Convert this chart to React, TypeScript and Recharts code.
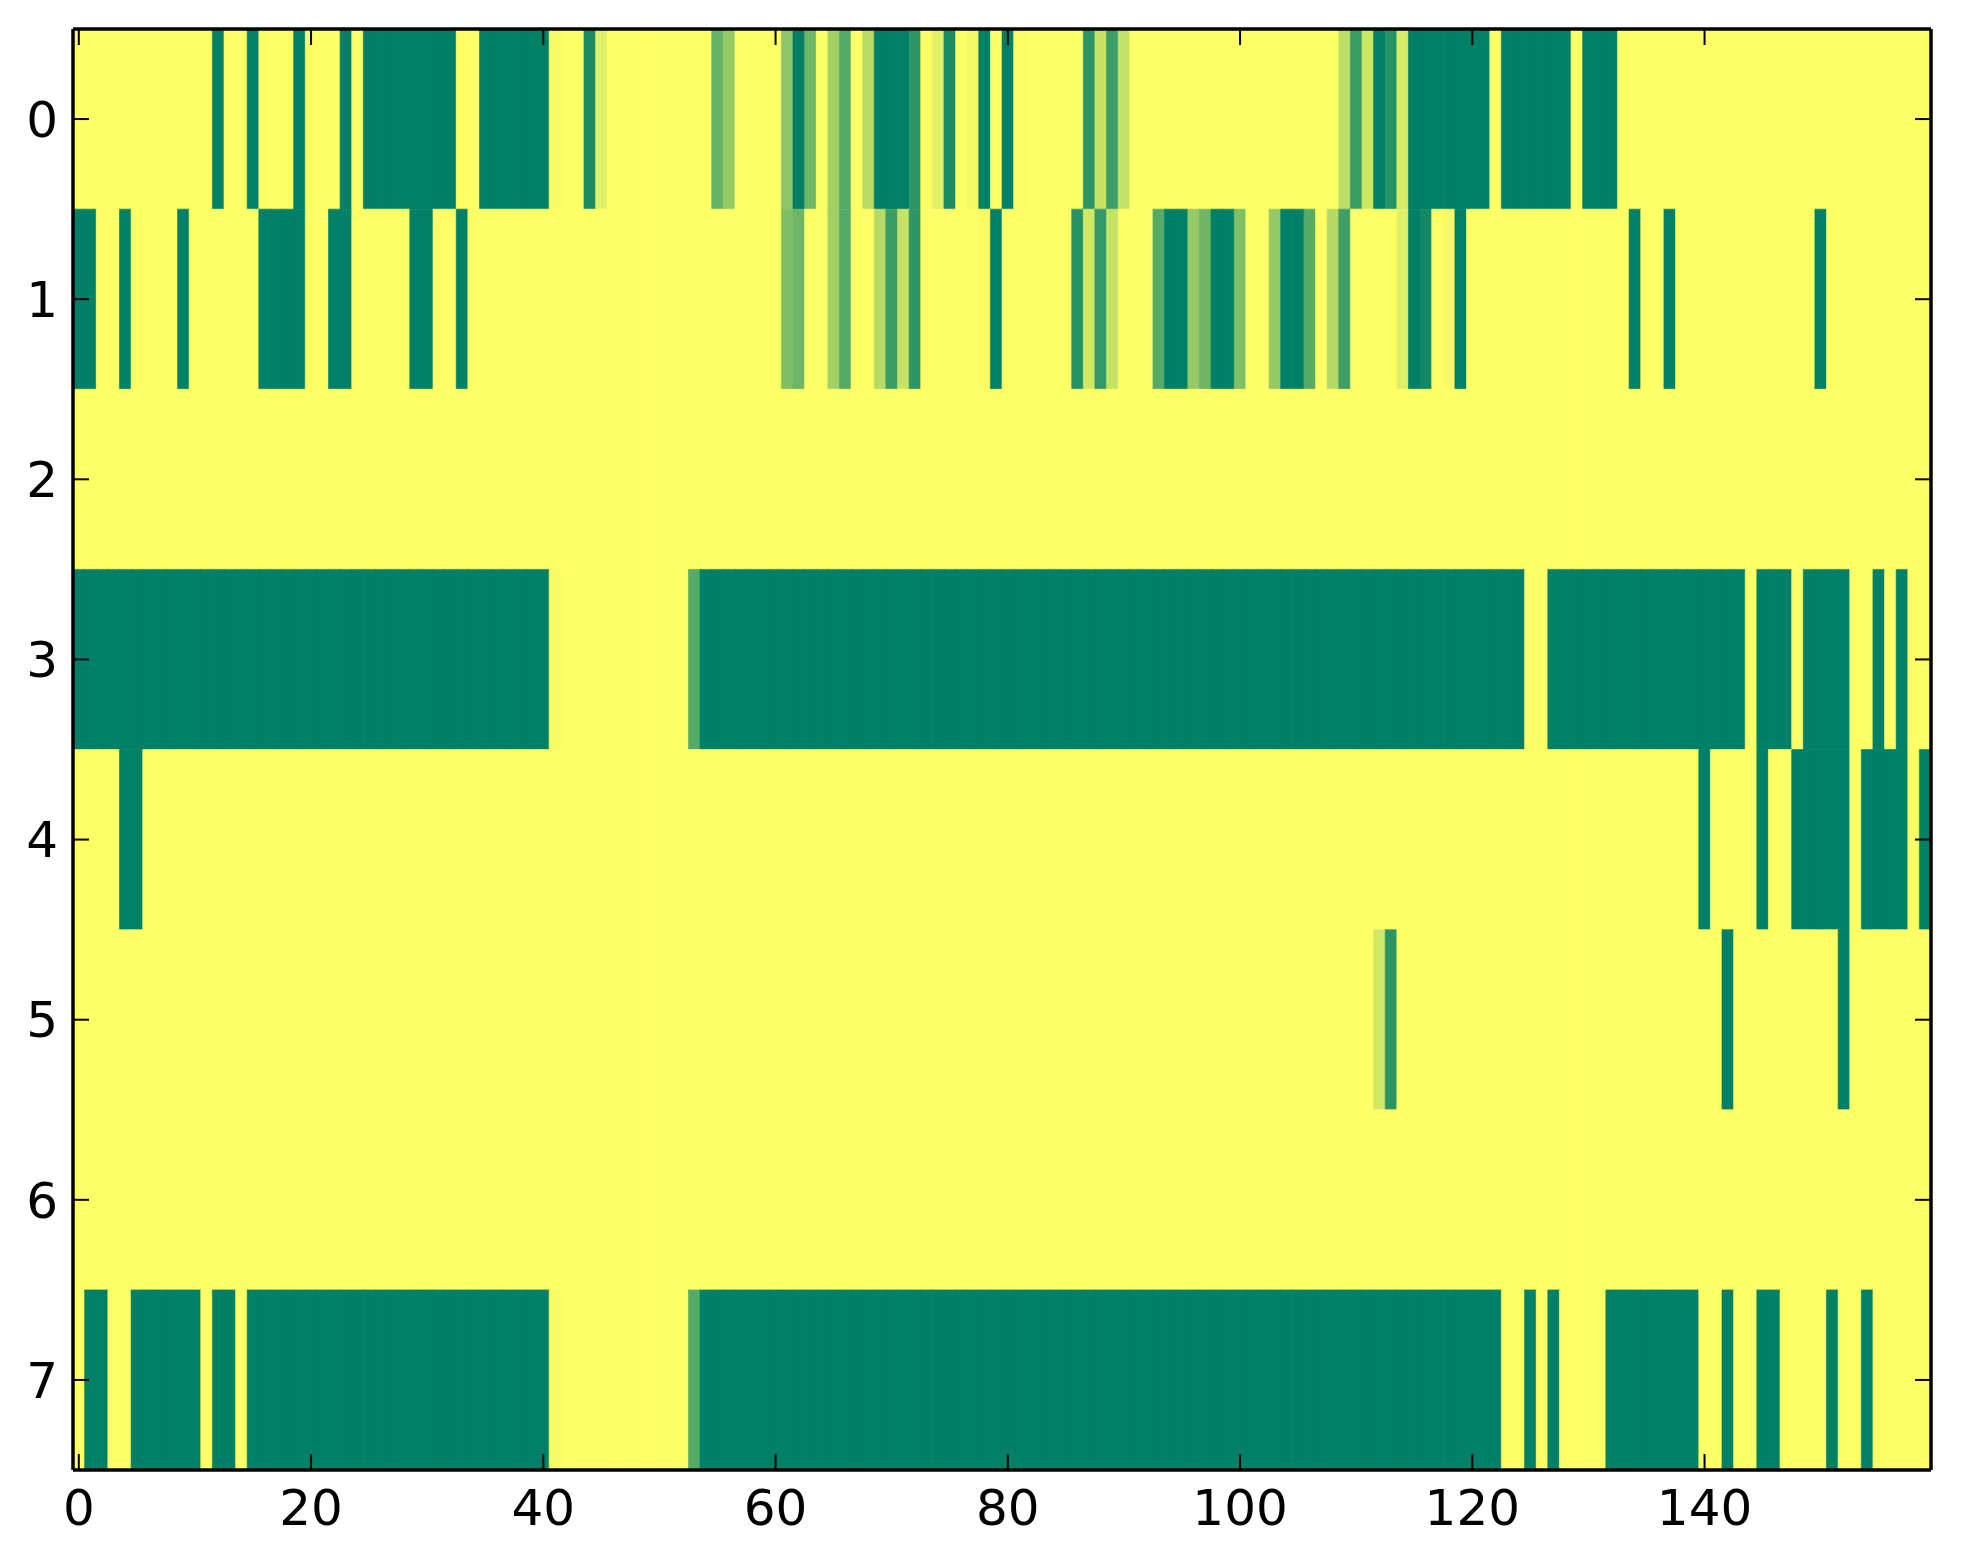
import React from 'react';
import { ComposedChart, Bar, Cell, XAxis, YAxis } from 'recharts';

// Heatmap values (0 = yellow, 1 = green), one array per row, 160 columns each
const row0 = [
  0, 0, 0, 0, 0, 0, 0, 0, 0, 0, 0, 0, 1, 0, 0, 1, 0, 0, 0, 1,
  0, 0, 0, 1, 0, 1, 1, 1, 1, 1, 1, 1, 1, 0, 0, 1, 1, 1, 1, 1,
  1, 0.03, 0, 0, 0.9, 0.12, 0, 0, 0, 0, 0, 0, 0, 0, 0, 0.6, 0.42, 0, 0, 0,
  0, 0.45, 1, 0.58, 0, 0.37, 0.67, 0, 0.28, 1, 1, 1, 0.82, 0, 0.12, 0.9, 0, 0.05, 1, 0,
  1, 0.02, 0, 0, 0, 0, 0, 0.83, 0.22, 0.77, 0.23, 0, 0, 0, 0, 0, 0, 0, 0, 0,
  0, 0, 0, 0, 0, 0, 0, 0, 0, 0.26, 0.77, 0.2, 1, 0.85, 0.15, 1, 1, 1, 1, 1,
  1, 1, 0, 1, 1, 1, 1, 1, 1, 0, 1, 1, 1, 0, 0, 0, 0, 0, 0, 0,
  0, 0, 0, 0, 0, 0, 0, 0, 0, 0, 0, 0, 0, 0, 0, 0, 0, 0, 0, 0,
];
const row1 = [
  1, 1, 0, 0, 1, 0, 0, 0, 0, 1, 0, 0, 0, 0, 0, 0, 1, 1, 1, 1,
  0, 0, 1, 1, 0, 0, 0, 0, 0, 1, 1, 0, 0, 1, 0, 0, 0, 0, 0, 0,
  0, 0, 0, 0, 0, 0, 0, 0, 0, 0, 0, 0, 0, 0, 0, 0, 0, 0, 0, 0,
  0, 0.5, 0.57, 0, 0, 0.37, 0.67, 0, 0, 0.28, 0.77, 0.22, 0.82, 0, 0, 0, 0, 0, 0.02, 1,
  0, 0, 0, 0, 0, 0, 0.85, 0.18, 0.8, 0.23, 0, 0, 0, 0.67, 1, 1, 0.42, 0.57, 1, 1,
  0.5, 0, 0, 0.42, 1, 1, 0.67, 0, 0.3, 0.76, 0, 0, 0, 0, 0.12, 1, 0.93, 0, 0.04, 1,
  0, 0, 0, 0, 0, 0, 0, 0, 0, 0, 0, 0, 0, 0, 1, 0, 0, 1, 0, 0,
  0, 0, 0, 0, 0, 0, 0, 0, 0, 0, 1, 0, 0, 0, 0, 0, 0, 0, 0, 0,
];
const row2 = [
  0, 0, 0, 0, 0, 0, 0, 0, 0, 0, 0, 0, 0, 0, 0, 0, 0, 0, 0, 0,
  0, 0, 0, 0, 0, 0, 0, 0, 0, 0, 0, 0, 0, 0, 0, 0, 0, 0, 0, 0,
  0, 0, 0, 0, 0, 0, 0, 0, 0, 0, 0, 0, 0, 0, 0, 0, 0, 0, 0, 0,
  0, 0, 0, 0, 0, 0, 0, 0, 0, 0, 0, 0, 0, 0, 0, 0, 0, 0, 0, 0,
  0, 0, 0, 0, 0, 0, 0, 0, 0, 0, 0, 0, 0, 0, 0, 0, 0, 0, 0, 0,
  0, 0, 0, 0, 0, 0, 0, 0, 0, 0, 0, 0, 0, 0, 0, 0, 0, 0, 0, 0,
  0, 0, 0, 0, 0, 0, 0, 0, 0, 0, 0, 0, 0, 0, 0, 0, 0, 0, 0, 0,
  0, 0, 0, 0, 0, 0, 0, 0, 0, 0, 0, 0, 0, 0, 0, 0, 0, 0, 0, 0,
];
const row3 = [
  1, 1, 1, 1, 1, 1, 1, 1, 1, 1, 1, 1, 1, 1, 1, 1, 1, 1, 1, 1,
  1, 1, 1, 1, 1, 1, 1, 1, 1, 1, 1, 1, 1, 1, 1, 1, 1, 1, 1, 1,
  1, 0.03, 0, 0, 0, 0, 0, 0, 0, 0, 0, 0, 0, 0.67, 1, 1, 1, 1, 1, 1,
  1, 1, 1, 1, 1, 1, 1, 1, 1, 1, 1, 1, 1, 1, 1, 1, 1, 1, 1, 1,
  1, 1, 1, 1, 1, 1, 1, 1, 1, 1, 1, 1, 1, 1, 1, 1, 1, 1, 1, 1,
  1, 1, 1, 1, 1, 1, 1, 1, 1, 1, 1, 1, 1, 1, 1, 1, 1, 1, 1, 1,
  1, 1, 1, 1, 1, 0, 0, 1, 1, 1, 1, 1, 1, 1, 1, 1, 1, 1, 1, 1,
  1, 1, 1, 1, 0, 1, 1, 1, 0, 1, 1, 1, 1, 0, 0, 1, 0, 1, 0, 0,
];
const row4 = [
  0, 0, 0, 0, 1, 1, 0, 0, 0, 0, 0, 0, 0, 0, 0, 0, 0, 0, 0, 0,
  0, 0, 0, 0, 0, 0, 0, 0, 0, 0, 0, 0, 0, 0, 0, 0, 0, 0, 0, 0,
  0, 0, 0, 0, 0, 0, 0, 0, 0, 0, 0, 0, 0, 0, 0, 0, 0, 0, 0, 0,
  0, 0, 0, 0, 0, 0, 0, 0, 0, 0, 0, 0, 0, 0, 0, 0, 0, 0, 0, 0,
  0, 0, 0, 0, 0, 0, 0, 0, 0, 0, 0, 0, 0, 0, 0, 0, 0, 0, 0, 0,
  0, 0, 0, 0, 0, 0, 0, 0, 0, 0, 0, 0, 0, 0, 0, 0, 0, 0, 0, 0,
  0, 0, 0, 0, 0, 0, 0, 0, 0, 0, 0, 0, 0, 0, 0, 0, 0, 0, 0, 0,
  1, 0, 0, 0, 0, 1, 0, 0, 1, 1, 1, 1, 1, 0, 1, 1, 1, 1, 0, 1,
];
const row5 = [
  0, 0, 0, 0, 0, 0, 0, 0, 0, 0, 0, 0, 0, 0, 0, 0, 0, 0, 0, 0,
  0, 0, 0, 0, 0, 0, 0, 0, 0, 0, 0, 0, 0, 0, 0, 0, 0, 0, 0, 0,
  0, 0, 0, 0, 0, 0, 0, 0, 0, 0, 0, 0, 0, 0, 0, 0, 0, 0, 0, 0,
  0, 0, 0, 0, 0, 0, 0, 0, 0, 0, 0, 0, 0, 0, 0, 0, 0, 0, 0, 0,
  0, 0, 0, 0, 0, 0, 0, 0, 0, 0, 0, 0, 0, 0, 0, 0, 0, 0, 0, 0,
  0, 0, 0, 0, 0, 0, 0, 0, 0, 0, 0, 0, 0.18, 0.83, 0, 0, 0, 0, 0, 0,
  0, 0, 0, 0, 0, 0, 0, 0, 0, 0, 0, 0, 0, 0, 0, 0, 0, 0, 0, 0,
  0, 0, 1, 0, 0, 0, 0, 0, 0, 0, 0, 0, 1, 0, 0, 0, 0, 0, 0, 0,
];
const row6 = [
  0, 0, 0, 0, 0, 0, 0, 0, 0, 0, 0, 0, 0, 0, 0, 0, 0, 0, 0, 0,
  0, 0, 0, 0, 0, 0, 0, 0, 0, 0, 0, 0, 0, 0, 0, 0, 0, 0, 0, 0,
  0, 0, 0, 0, 0, 0, 0, 0, 0, 0, 0, 0, 0, 0, 0, 0, 0, 0, 0, 0,
  0, 0, 0, 0, 0, 0, 0, 0, 0, 0, 0, 0, 0, 0, 0, 0, 0, 0, 0, 0,
  0, 0, 0, 0, 0, 0, 0, 0, 0, 0, 0, 0, 0, 0, 0, 0, 0, 0, 0, 0,
  0, 0, 0, 0, 0, 0, 0, 0, 0, 0, 0, 0, 0, 0, 0, 0, 0, 0, 0, 0,
  0, 0, 0, 0, 0, 0, 0, 0, 0, 0, 0, 0, 0, 0, 0, 0, 0, 0, 0, 0,
  0, 0, 0, 0, 0, 0, 0, 0, 0, 0, 0, 0, 0, 0, 0, 0, 0, 0, 0, 0,
];
const row7 = [
  0, 1, 1, 0, 0, 1, 1, 1, 1, 1, 1, 0, 1, 1, 0, 1, 1, 1, 1, 1,
  1, 1, 1, 1, 1, 1, 1, 1, 1, 1, 1, 1, 1, 1, 1, 1, 1, 1, 1, 1,
  1, 0.03, 0, 0, 0, 0, 0, 0, 0, 0, 0, 0, 0, 0.67, 1, 1, 1, 1, 1, 1,
  1, 1, 1, 1, 1, 1, 1, 1, 1, 1, 1, 1, 1, 1, 1, 1, 1, 1, 1, 1,
  1, 1, 1, 1, 1, 1, 1, 1, 1, 1, 1, 1, 1, 1, 1, 1, 1, 1, 1, 1,
  1, 1, 1, 1, 1, 1, 1, 1, 1, 1, 1, 1, 1, 1, 1, 1, 1, 1, 1, 1,
  1, 1, 1, 0, 0, 1, 0, 1, 0, 0, 0, 0, 1, 1, 1, 1, 1, 1, 1, 1,
  0, 0, 1, 0, 0, 1, 1, 0, 0, 0, 0, 1, 0, 0, 1, 0, 0, 0, 0, 0,
];

const ROWS = [row0, row1, row2, row3, row4, row5, row6, row7];
const COLUMNS = row0.map((_, i) => i);
const X_TICK_STEP = 20; // labels 0, 20, 40, ..., 140
const Y_TICKS = [0, 1, 2, 3, 4, 5, 6, 7];

// matplotlib "summer_r" colormap
const summerR = (v: number) =>
  `rgb(${Math.round(255 * (1 - v))}, ${Math.round(255 * (1 - v / 2))}, 102)`;

const data = COLUMNS.map((c, i) => {
  const o: Record<string, number> = { col: c };
  ROWS.forEach((r, k) => {
    o['cell' + k] = 1;
    o['v' + k] = r[i];
  });
  return o;
});

export default function App() {
  const axisLine = { stroke: '#000', strokeWidth: 3.5 };
  const tickLine = { stroke: '#000', strokeWidth: 2 };
  const font = { fontSize: 50, fill: '#000', fontFamily: 'DejaVu Sans' };
  const empty = () => '';
  return (
    <div style={{ width: 1963, height: 1564, background: '#fff' }}>
      <style>{'body{margin:0}'}</style>
      <ComposedChart
        width={1963}
        height={1564}
        data={data}
        margin={{ top: 29, right: 32, bottom: 0, left: 0 }}
        barCategoryGap={0}
        barGap={0}
      >
        {ROWS.map((r, k) => (
          <Bar
            key={k}
            xAxisId="xb"
            yAxisId="val"
            dataKey={'cell' + k}
            stackId="s"
            isAnimationActive={false}
          >
            {r.map((v, i) => (
              <Cell key={i} fill={summerR(v)} stroke={summerR(v)} strokeWidth={0.6} />
            ))}
          </Bar>
        ))}
        <XAxis
          xAxisId="xb"
          dataKey="col"
          type="category"
          orientation="bottom"
          interval={X_TICK_STEP - 1}
          height={94}
          tickLine={false}
          tickSize={0}
          tickMargin={19}
          axisLine={axisLine}
          tick={font}
        />
        <YAxis
          yAxisId="yl"
          type="number"
          orientation="left"
          domain={[-0.5, 7.5]}
          reversed
          allowDataOverflow
          ticks={Y_TICKS}
          interval={0}
          width={73}
          tickLine={false}
          tickSize={0}
          tickMargin={15}
          axisLine={axisLine}
          tick={font}
        />
        <YAxis yAxisId="val" type="number" domain={[0, 8]} reversed hide allowDataOverflow width={0} />
        <XAxis
          xAxisId="xbm"
          dataKey="col"
          type="category"
          orientation="bottom"
          mirror
          interval={X_TICK_STEP - 1}
          tickSize={16}
          tickLine={tickLine}
          axisLine={false}
          tickFormatter={empty}
        />
        <XAxis
          xAxisId="xt"
          dataKey="col"
          type="category"
          orientation="top"
          mirror
          interval={X_TICK_STEP - 1}
          tickSize={16}
          tickLine={tickLine}
          axisLine={axisLine}
          tickFormatter={empty}
        />
        <YAxis
          yAxisId="ylm"
          type="number"
          orientation="left"
          mirror
          domain={[-0.5, 7.5]}
          reversed
          allowDataOverflow
          ticks={Y_TICKS}
          interval={0}
          tickSize={16}
          tickLine={tickLine}
          axisLine={false}
          tickFormatter={empty}
        />
        <YAxis
          yAxisId="yr"
          type="number"
          orientation="right"
          mirror
          domain={[-0.5, 7.5]}
          reversed
          allowDataOverflow
          ticks={Y_TICKS}
          interval={0}
          tickSize={16}
          tickLine={tickLine}
          axisLine={axisLine}
          tickFormatter={empty}
        />
      </ComposedChart>
    </div>
  );
}
